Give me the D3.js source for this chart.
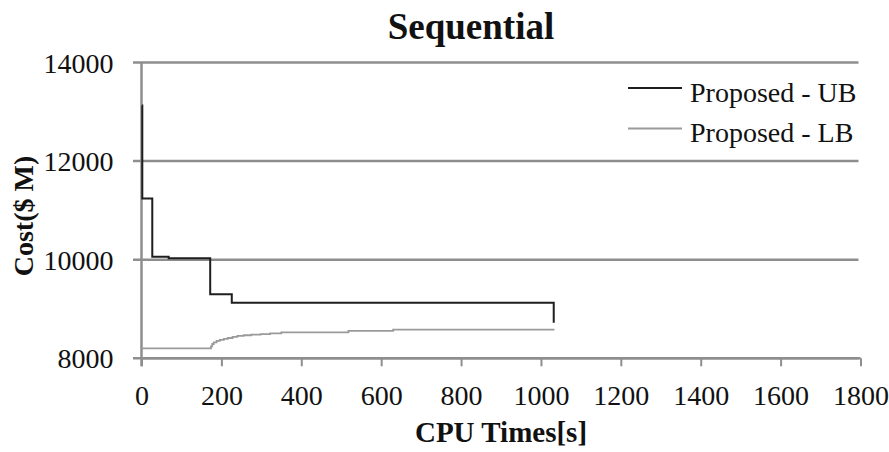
<!DOCTYPE html>
<html><head><meta charset="utf-8">
<script src="https://cdn.jsdelivr.net/npm/d3@7"></script>
<style>body{margin:0;background:#fff}svg{display:block}</style>
</head><body>
<svg id="c" width="889" height="452"></svg>
<script>
const title = "Sequential";
const xLabel = "CPU Times[s]";
const yLabel = "Cost($ M)";
const xTicks = [0,200,400,600,800,1000,1200,1400,1600,1800];
const yTicks = [8000,10000,12000,14000];
const seriesNames = ["Proposed - UB","Proposed - LB"];
// step data [time, cost]
const ubTime = [1, 2, 27, 68, 172, 226, 1031, 1032];
const ubCost = [13130, 11240, 10060, 10030, 9300, 9125, 9125, 8720];
const lbTime = [0, 174, 177, 181, 188, 196, 206, 216, 228, 240, 256, 275, 298, 322, 350, 518, 630, 1034];
const lbCost = [8200, 8240, 8290, 8325, 8352, 8375, 8395, 8412, 8436, 8455, 8468, 8480, 8492, 8505, 8525, 8555, 8582, 8582];

const svg = d3.select("#c");
const m = {l:141.5, r:860.5, t:62.5, b:358.3};
const x = d3.scaleLinear().domain([0,1800]).range([m.l, m.r]);
const y = d3.scaleLinear().domain([8000,14000]).range([m.b, m.t]);
const font = "'Liberation Serif', 'Times New Roman', serif";
const grid = "#8e8e8e";

// gridlines (extend left as ticks)
svg.append("g").selectAll("line").data(yTicks).join("line")
  .attr("x1", m.l - 8.5).attr("x2", m.r - 2)
  .attr("y1", d => y(d)).attr("y2", d => y(d))
  .attr("stroke", grid).attr("stroke-width", 2.5);

// y axis line
svg.append("line").attr("x1", m.l).attr("x2", m.l).attr("y1", m.t).attr("y2", m.b + 8)
  .attr("stroke", grid).attr("stroke-width", 2.5);

// x axis
const xa = svg.append("g").attr("transform", `translate(0,${m.b})`)
  .call(d3.axisBottom(x).tickValues(xTicks).tickSize(8).tickFormat(d3.format("d")).tickPadding(8));
xa.select(".domain").attr("stroke", grid).attr("stroke-width", 2.5).attr("d", `M${m.l},0H${m.r}`);
xa.selectAll(".tick line").attr("stroke", grid).attr("stroke-width", 2);
xa.selectAll(".tick text").attr("font-family", font).attr("font-size", 28).attr("fill", "#111")
  .attr("y", 0).attr("dy", 0).attr("transform", "translate(0,47)");

// y tick labels
svg.append("g").selectAll("text").data(yTicks).join("text")
  .attr("x", 113.5).attr("y", d => y(d) + 10).attr("text-anchor", "end")
  .attr("font-family", font).attr("font-size", 28).attr("fill", "#111").text(d => d);

// lines
const line = d3.line().curve(d3.curveStepAfter).x(d => x(d[0])).y(d => y(d[1]));
const lbData = lbTime.map((t,i) => [t, lbCost[i]]);
const ubData = ubTime.map((t,i) => [t, ubCost[i]]);
svg.append("path").attr("d", line(lbData)).attr("fill","none").attr("stroke","#9a9a9a").attr("stroke-width",1.8);
svg.append("path").attr("d", line(ubData)).attr("fill","none").attr("stroke","#1e1e1e").attr("stroke-width",2);

// legend
const leg = [{n: seriesNames[0], c:"#1e1e1e", w:2, y:88}, {n: seriesNames[1], c:"#9a9a9a", w:1.8, y:128.5}];
const lg = svg.append("g");
leg.forEach(L => {
  lg.append("line").attr("x1", 628).attr("x2", 682).attr("y1", L.y).attr("y2", L.y)
    .attr("stroke", L.c).attr("stroke-width", L.w);
  lg.append("text").attr("x", 690).attr("y", L.y + 13.5).attr("font-family", font)
    .attr("font-size", 28).attr("fill", "#111").text(L.n);
});

// title
svg.append("text").attr("x", 471).attr("y", 39).attr("text-anchor","middle")
  .attr("font-family", font).attr("font-weight","bold").attr("font-size", 37).attr("fill","#111").text(title);
// axis titles
svg.append("text").attr("x", (m.l+m.r)/2).attr("y", 442).attr("text-anchor","middle")
  .attr("font-family", font).attr("font-weight","bold").attr("font-size", 29).attr("fill","#111").text(xLabel);
svg.append("text").attr("transform", "translate(33,216) rotate(-90)").attr("text-anchor","middle")
  .attr("font-family", font).attr("font-weight","bold").attr("font-size", 28).attr("fill","#111").text(yLabel);
</script>
</body></html>
